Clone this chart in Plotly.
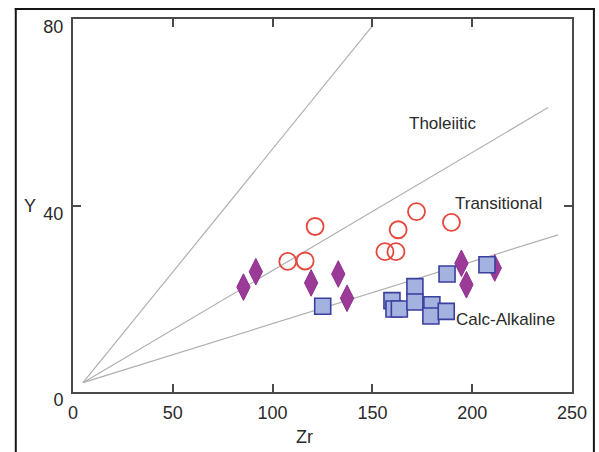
import plotly.graph_objects as go

# ---- data ----
circles_zr = [107.6, 116.3, 121.3, 156.3, 161.8, 162.9, 172.1, 189.6]
circles_y = [28.0, 28.1, 35.5, 30.1, 30.1, 34.8, 38.7, 36.4]

diamonds_zr = [85.4, 91.6, 119.3, 132.9, 137.3, 194.6, 197.1, 211.3]
diamonds_y = [22.5, 25.8, 23.4, 25.3, 20.1, 27.6, 23.0, 26.6]

squares_zr = [125.1, 159.8, 160.8, 163.5, 171.3, 171.3, 179.8, 179.3, 187.0, 187.4, 207.4]
squares_y = [18.4, 19.6, 17.8, 17.8, 22.6, 19.3, 18.7, 16.3, 17.3, 25.3, 27.3]

# discrimination lines: start point and end points
line_start = (5, 2)
line_ends_zr = [150, 238, 243]
line_ends_y = [78.5, 61, 33.7]

field_labels = ["Tholeiitic", "Transitional", "Calc-Alkaline"]
field_label_zr = [185.4, 213.3, 216.9]
field_label_y = [57.6, 40.5, 15.6]

x_ticks = [0, 50, 100, 150, 200, 250]
y_ticks = [0, 40, 80]

FONT = "Liberation Sans, Arial, sans-serif"
TXT = "#2a2a2a"
AX = "#4a4a4a"

fig = go.Figure()

for ex, ey in zip(line_ends_zr, line_ends_y):
    fig.add_trace(go.Scatter(x=[line_start[0], ex], y=[line_start[1], ey], mode="lines",
                             line=dict(color="#b0b0b0", width=1.2), hoverinfo="skip",
                             showlegend=False))

fig.add_trace(go.Scatter(x=circles_zr, y=circles_y, mode="markers", showlegend=False,
                         marker=dict(symbol="circle-open", size=17, color="#e5473d",
                                     line=dict(color="#e5473d", width=1.8))))
fig.add_trace(go.Scatter(x=diamonds_zr, y=diamonds_y, mode="markers", showlegend=False,
                         marker=dict(symbol="diamond-tall", size=19, color="#9b3b97",
                                     line=dict(color="#8e2f8c", width=1))))
fig.add_trace(go.Scatter(x=squares_zr, y=squares_y, mode="markers", showlegend=False,
                         marker=dict(symbol="square", size=16, color="#a4b2e0",
                                     line=dict(color="#3b3f9e", width=1.6))))

for t, x, y in zip(field_labels, field_label_zr, field_label_y):
    fig.add_annotation(x=x, y=y, text=t, showarrow=False,
                       font=dict(family=FONT, size=17, color=TXT),
                       xanchor="center", yanchor="middle")

# axis titles as annotations
fig.add_annotation(xref="paper", yref="paper", x=(305 - 72.5) / 501.5, y=(392.5 - 437.5) / 374,
                   text="Zr", showarrow=False, font=dict(family=FONT, size=18, color=TXT),
                   xanchor="center", yanchor="middle")
fig.add_annotation(xref="paper", yref="paper", x=(29 - 72.5) / 501.5, y=(392.5 - 206) / 374,
                   text="Y", showarrow=False, font=dict(family=FONT, size=18, color=TXT),
                   xanchor="center", yanchor="middle")

# outer frame: thin filled bands (top, left, right), bottom runs off the page
PW, PH = 501.5, 374.0
def px_x(p):
    return (p - 72.5) / PW
def px_y(p):
    return (392.5 - p) / PH

bands = [
    (14.0, 597.0, 7.5, 9.5),    # top
    (14.0, 16.0, 7.5, 470.0),   # left
    (595.0, 597.0, 7.5, 470.0), # right
]
for (xa, xb, ya, yb) in bands:
    fig.add_shape(type="rect", xref="paper", yref="paper",
                  x0=px_x(xa), x1=px_x(xb), y0=px_y(yb), y1=px_y(ya),
                  line=dict(width=0), fillcolor="#151515", layer="above")

axis_common = dict(showgrid=False, zeroline=False, showline=True, linecolor=AX, linewidth=2,
                   mirror="ticks", ticks="inside", ticklen=8, tickwidth=2, tickcolor=AX,
                   tickfont=dict(family=FONT, size=18, color=TXT))

fig.update_xaxes(range=[0, 250], tickvals=x_ticks, ticktext=[str(v) for v in x_ticks],
                 ticklabelstandoff=3, **axis_common)
fig.update_yaxes(range=[0, 80], tickvals=y_ticks, ticktext=[str(v) for v in y_ticks],
                 ticklabelshift=8, ticklabelstandoff=4, **axis_common)

fig.update_layout(width=599, height=452, margin=dict(l=72.5, r=25, t=18.5, b=59.5),
                  paper_bgcolor="white", plot_bgcolor="white", showlegend=False)

fig.write_html("out.html", config={"displayModeBar": False})
